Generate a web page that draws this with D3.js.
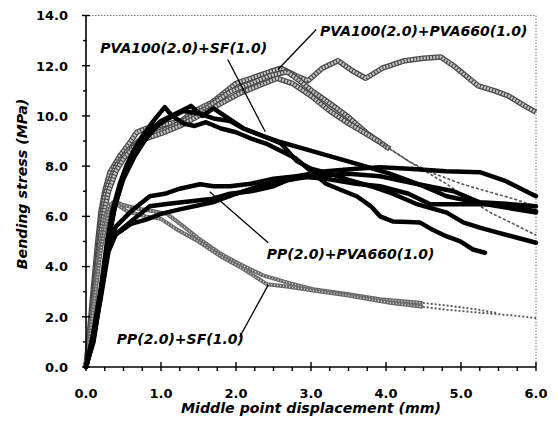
<!DOCTYPE html>
<html>
<head>
<meta charset="utf-8">
<script src="https://cdn.jsdelivr.net/npm/d3@7"></script>
<style>
  body { margin: 0; background: #fff; }
  .tick-label { font-family: "DejaVu Sans", sans-serif; font-weight: bold; font-size: 13px; }
  .note { font-family: "DejaVu Sans", sans-serif; font-weight: bold; font-style: italic; font-size: 14px; }
  .title { font-family: "DejaVu Sans", sans-serif; font-weight: bold; font-style: italic; font-size: 14.2px; }
</style>
</head>
<body>
<div id="chart"></div>
<script>

// tick values
let xTicks = [0, 1, 2, 3, 4, 5, 6];
let yTicks = [0, 2, 4, 6, 8, 10, 12, 14];

// PVA100(2.0)+PVA660(1.0)  (grey)
let g1 = [[0,0],[0.05,1.5],[0.1,3.2],[0.15,4.8],[0.2,6.2],[0.25,7.0],[0.32,7.76],[0.45,8.4],[0.59,8.96],[0.68,9.36],[0.8,9.5],[0.95,9.6],[1.1,9.7],[1.25,9.76],[1.45,10.2],[1.69,10.56],[2.0,11.3],[2.2,11.5],[2.45,11.76],[2.6,11.9],[2.8,11.6],[2.96,11.4],[3.15,11.9],[3.36,12.2],[3.55,11.8],[3.73,11.5],[3.95,11.9],[4.25,12.2],[4.5,12.3],[4.73,12.35],[4.9,12.0],[5.23,11.2],[5.45,11.0],[5.63,10.8],[5.85,10.4],[6.0,10.15]];
let g2 = [[0,0],[0.05,1.2],[0.1,2.8],[0.15,4.3],[0.2,5.8],[0.25,6.8],[0.3,7.3],[0.4,8.0],[0.55,8.6],[0.7,9.0],[0.9,9.3],[1.1,9.5],[1.3,9.8],[1.6,10.3],[1.92,10.96],[2.2,11.3],[2.45,11.6],[2.68,11.76],[2.85,11.4],[3.03,10.96],[3.25,10.5],[3.48,10.0],[3.75,9.3],[4.05,8.68],[4.3,8.2],[4.59,7.76],[5.0,7.3],[5.39,6.96],[5.7,6.7],[6.0,6.4]];
let g3 = [[0,0],[0.05,1.0],[0.1,2.5],[0.15,4.0],[0.2,5.3],[0.25,6.3],[0.3,7.0],[0.4,7.8],[0.5,8.3],[0.65,8.8],[0.8,9.1],[1.0,9.3],[1.25,9.6],[1.5,10.0],[1.8,10.5],[2.05,10.9],[2.3,11.2],[2.55,11.5],[2.75,11.3],[3.0,10.8],[3.25,10.2],[3.5,9.7],[3.92,8.96],[4.3,8.2],[4.8,7.3],[5.1,6.7],[5.39,6.15],[5.7,5.7],[6.0,5.25]];

// PP(2.0)+SF(1.0)  (light grey)
let ps1 = [[0,0],[0.05,1.2],[0.1,2.6],[0.15,3.9],[0.2,5.0],[0.25,5.9],[0.3,6.4],[0.38,6.6],[0.5,6.45],[0.7,6.3],[0.9,6.2],[1.08,6.1],[1.3,5.6],[1.52,5.08],[1.8,4.5],[2.05,4.1],[2.36,3.65],[2.7,3.35],[3.03,3.1],[3.5,2.9],[3.92,2.7],[4.49,2.55],[4.81,2.45],[5.2,2.3],[5.48,2.15]];
let ps2 = [[0,0],[0.1,2.4],[0.2,4.7],[0.3,6.2],[0.4,6.5],[0.55,6.2],[0.8,6.0],[1.0,5.9],[1.2,5.5],[1.5,5.0],[1.8,4.4],[2.1,3.9],[2.41,3.3],[2.7,3.2],[3.03,3.05],[3.5,2.85],[4.05,2.56],[4.49,2.4],[4.81,2.28],[5.3,2.15],[5.7,2.05],[6.0,1.95]];

// PVA100(2.0)+SF(1.0)  (black)
let sf1 = [[0,0],[0.1,1.2],[0.2,3.2],[0.28,5.0],[0.35,6.2],[0.45,7.3],[0.55,8.1],[0.65,8.7],[0.75,9.2],[0.9,9.8],[1.05,10.35],[1.15,10.0],[1.3,9.7],[1.45,9.6],[1.6,9.75],[1.8,9.5],[2.0,9.35],[2.2,9.1],[2.4,8.9],[2.6,8.6],[2.8,8.3],[3.0,7.8],[3.2,7.3],[3.4,7.05],[3.61,6.8],[3.8,6.4],[3.92,6.0],[4.09,5.8],[4.3,5.78],[4.45,5.76],[4.6,5.5],[4.81,5.2],[4.99,5.0],[5.16,4.68],[5.32,4.55]];
let sf2 = [[0,0],[0.1,1.0],[0.2,2.9],[0.3,5.0],[0.38,6.3],[0.5,7.6],[0.6,8.3],[0.7,8.8],[0.85,9.4],[1.0,9.8],[1.2,10.1],[1.4,10.4],[1.55,10.0],[1.7,10.3],[1.9,9.9],[2.1,9.5],[2.36,9.2],[2.6,8.9],[2.81,8.2],[3.0,7.9],[3.25,7.7],[3.5,7.45],[3.8,7.2],[4.05,6.95],[4.4,6.5],[4.81,6.15],[5.03,5.76],[5.25,5.55],[5.48,5.36],[5.75,5.15],[6.0,4.95]];
let sf3 = [[0,0],[0.1,1.1],[0.2,3.0],[0.3,5.2],[0.4,6.6],[0.5,7.5],[0.65,8.4],[0.8,9.1],[0.95,9.6],[1.1,9.9],[1.3,10.2],[1.5,10.1],[1.7,9.9],[1.92,9.8],[2.1,9.5],[2.36,9.2],[2.59,8.96],[2.9,8.7],[3.25,8.4],[3.6,8.1],[4.05,7.7],[4.5,7.2],[4.81,6.8],[5.3,6.5],[6.0,6.15]];

// PP(2.0)+PVA660(1.0)  (black)
let pv1 = [[0,0],[0.1,1.4],[0.2,3.1],[0.3,4.8],[0.4,5.6],[0.6,6.2],[0.85,6.8],[1.05,6.9],[1.25,7.1],[1.52,7.28],[1.7,7.2],[1.92,7.2],[2.2,7.3],[2.5,7.5],[2.81,7.6],[3.2,7.8],[3.6,7.9],[3.92,7.96],[4.3,7.9],[4.8,7.8],[5.25,7.76],[5.6,7.4],[6.0,6.8]];
let pv2 = [[0,0],[0.1,1.3],[0.2,3.0],[0.29,4.68],[0.36,5.2],[0.6,5.7],[0.81,5.88],[1.0,6.1],[1.25,6.28],[1.69,6.56],[2.0,6.9],[2.3,7.2],[2.6,7.4],[3.0,7.6],[3.5,7.7],[3.92,7.6],[4.4,7.3],[4.9,7.0],[5.25,6.56],[5.6,6.5],[6.0,6.4]];
let pv3 = [[0,0],[0.1,1.2],[0.2,2.8],[0.3,4.6],[0.4,5.3],[0.6,5.8],[0.85,6.4],[1.1,6.5],[1.4,6.6],[1.69,6.7],[1.92,6.9],[2.2,7.0],[2.5,7.2],[2.81,7.6],[3.2,7.5],[3.6,7.3],[3.92,7.2],[4.3,6.9],[4.59,6.48],[5.0,6.48],[5.48,6.48],[6.0,6.2]];

// annotations: text, label anchor, pointer start/end (data units)
let noteText = ['PVA100(2.0)+SF(1.0)', 'PVA100(2.0)+PVA660(1.0)', 'PP(2.0)+PVA660(1.0)', 'PP(2.0)+SF(1.0)'];
let noteAt = [[0.19,12.49],[3.12,13.2],[2.41,4.31],[0.41,0.92]];
let pointerFrom = [[1.89,12.25],[3.07,13.44],[2.43,4.95],[2.05,1.2]];
let pointerTo = [[2.39,9.37],[2.56,11.85],[1.65,6.98],[2.43,3.27]];

let margin = {left: 86, right: 22, top: 15.5, bottom: 60};
let width = 558, height = 427;

let svg = d3.select('#chart')
  .append('svg')
    .attr('width', width)
    .attr('height', height)
;

let x = d3.scaleLinear().domain([0, 6]).range([margin.left, width - margin.right]);
let y = d3.scaleLinear().domain([0, 14]).range([height - margin.bottom, margin.top]);

let line = d3.line()
  .x(function(d){ return x(d[0]); })
  .y(function(d){ return y(d[1]); })
;

// dotted frame top / right
svg.append('line')
    .attr('x1', x(0)).attr('x2', x(6))
    .attr('y1', y(14)).attr('y2', y(14))
    .attr('stroke', '#777').attr('stroke-width', 1)
    .attr('stroke-dasharray', '1.5,1.5')
;
svg.append('line')
    .attr('x1', x(6)).attr('x2', x(6))
    .attr('y1', y(14)).attr('y2', y(0))
    .attr('stroke', '#777').attr('stroke-width', 1)
    .attr('stroke-dasharray', '1.5,1.5')
;

function splitAt(pts, cut) {
  let i = pts.findIndex(function(p){ return p[0] >= cut; });
  return [pts.slice(0, i + 1), pts.slice(i)];
}

function greyCurve(pts, cut) {
  let parts = cut ? splitAt(pts, cut) : [pts, []];
  svg.append('path').attr('d', line(parts[0]))
      .attr('fill', 'none').attr('stroke', '#4a4a4a').attr('stroke-width', 5.5)
      .attr('stroke-linejoin', 'round')
  ;
  svg.append('path').attr('d', line(parts[0]))
      .attr('fill', 'none').attr('stroke', '#c4c4c4').attr('stroke-width', 3)
      .attr('stroke-dasharray', '2,1.2')
      .attr('stroke-linejoin', 'round')
  ;
  if (parts[1].length > 1) {
    svg.append('path').attr('d', line(parts[1]))
        .attr('fill', 'none').attr('stroke', '#555').attr('stroke-width', 1.6)
        .attr('stroke-dasharray', '3,2')
    ;
  }
}

function lightCurve(pts, cut) {
  let parts = splitAt(pts, cut);
  svg.append('path').attr('d', line(parts[0]))
      .attr('fill', 'none').attr('stroke', '#6a6a6a').attr('stroke-width', 4)
      .attr('stroke-linejoin', 'round')
  ;
  svg.append('path').attr('d', line(parts[0]))
      .attr('fill', 'none').attr('stroke', '#d0d0d0').attr('stroke-width', 1.6)
      .attr('stroke-dasharray', '1,2')
  ;
  svg.append('path').attr('d', line(parts[1]))
      .attr('fill', 'none').attr('stroke', '#555').attr('stroke-width', 1.8)
      .attr('stroke-dasharray', '2,2')
  ;
}

function blackCurve(pts) {
  svg.append('path').attr('d', line(pts))
      .attr('fill', 'none').attr('stroke', '#000').attr('stroke-width', 4.5)
      .attr('stroke-linejoin', 'round').attr('stroke-linecap', 'round')
  ;
}

greyCurve(g1);
greyCurve(g2, 3.9);
greyCurve(g3, 3.9);
lightCurve(ps1, 4.4);
lightCurve(ps2, 4.4);
blackCurve(sf1);
blackCurve(sf2);
blackCurve(sf3);
blackCurve(pv1);
blackCurve(pv2);
blackCurve(pv3);

// axes
svg.append('line')
    .attr('x1', x(0)).attr('x2', x(0))
    .attr('y1', y(14)).attr('y2', y(0))
    .attr('stroke', '#000').attr('stroke-width', 1.6)
;
svg.append('line')
    .attr('x1', x(0)).attr('x2', x(6))
    .attr('y1', y(0)).attr('y2', y(0))
    .attr('stroke', '#000').attr('stroke-width', 1.6)
;

// y ticks every 1, labels every 2
svg.selectAll('.ytick').data(d3.range(0, 15)).enter()
  .append('line')
    .attr('class', 'ytick')
    .attr('x1', function(d){ return d % 2 == 0 ? x(0) - 4 : x(0) - 3; })
    .attr('x2', function(d){ return d % 2 == 0 ? x(0) + 4 : x(0); })
    .attr('y1', function(d){ return y(d); })
    .attr('y2', function(d){ return y(d); })
    .attr('stroke', '#000').attr('stroke-width', 1.4)
;
svg.selectAll('.ylab').data(yTicks).enter()
  .append('text')
    .attr('class', 'tick-label')
    .attr('x', x(0) - 18)
    .attr('y', function(d){ return y(d) + 4.8; })
    .attr('text-anchor', 'end')
    .text(function(d){ return d.toFixed(1); })
;

// x ticks every 0.25, labels every 1
svg.selectAll('.xtick').data(d3.range(0, 25)).enter()
  .append('line')
    .attr('class', 'xtick')
    .attr('x1', function(d){ return x(d / 4); })
    .attr('x2', function(d){ return x(d / 4); })
    .attr('y1', function(d){ return d % 4 == 0 ? y(0) - 5 : y(0); })
    .attr('y2', y(0) + 4)
    .attr('stroke', '#000').attr('stroke-width', 1.4)
;
svg.selectAll('.xlab').data(xTicks).enter()
  .append('text')
    .attr('class', 'tick-label')
    .attr('x', function(d){ return x(d); })
    .attr('y', 398)
    .attr('text-anchor', 'middle')
    .text(function(d){ return d.toFixed(1); })
;

// axis titles
svg.append('text')
    .attr('class', 'title')
    .attr('x', (x(0) + x(6)) / 2)
    .attr('y', 413)
    .attr('text-anchor', 'middle')
    .text('Middle point displacement (mm)')
;
svg.append('text')
    .attr('class', 'title')
    .attr('transform', 'translate(27,' + 184 + ') rotate(-90)')
    .attr('text-anchor', 'middle')
    .text('Bending stress (MPa)')
;

// pointers + labels
svg.selectAll('.pointer').data(noteText).enter()
  .append('line')
    .attr('class', 'pointer')
    .attr('x1', function(d, i){ return x(pointerFrom[i][0]); })
    .attr('y1', function(d, i){ return y(pointerFrom[i][1]); })
    .attr('x2', function(d, i){ return x(pointerTo[i][0]); })
    .attr('y2', function(d, i){ return y(pointerTo[i][1]); })
    .attr('stroke', '#000').attr('stroke-width', 1.3)
;
svg.selectAll('.note').data(noteText).enter()
  .append('text')
    .attr('class', 'note')
    .attr('x', function(d, i){ return x(noteAt[i][0]); })
    .attr('y', function(d, i){ return y(noteAt[i][1]); })
    .text(function(d){ return d; })
;

</script>
</body>
</html>
